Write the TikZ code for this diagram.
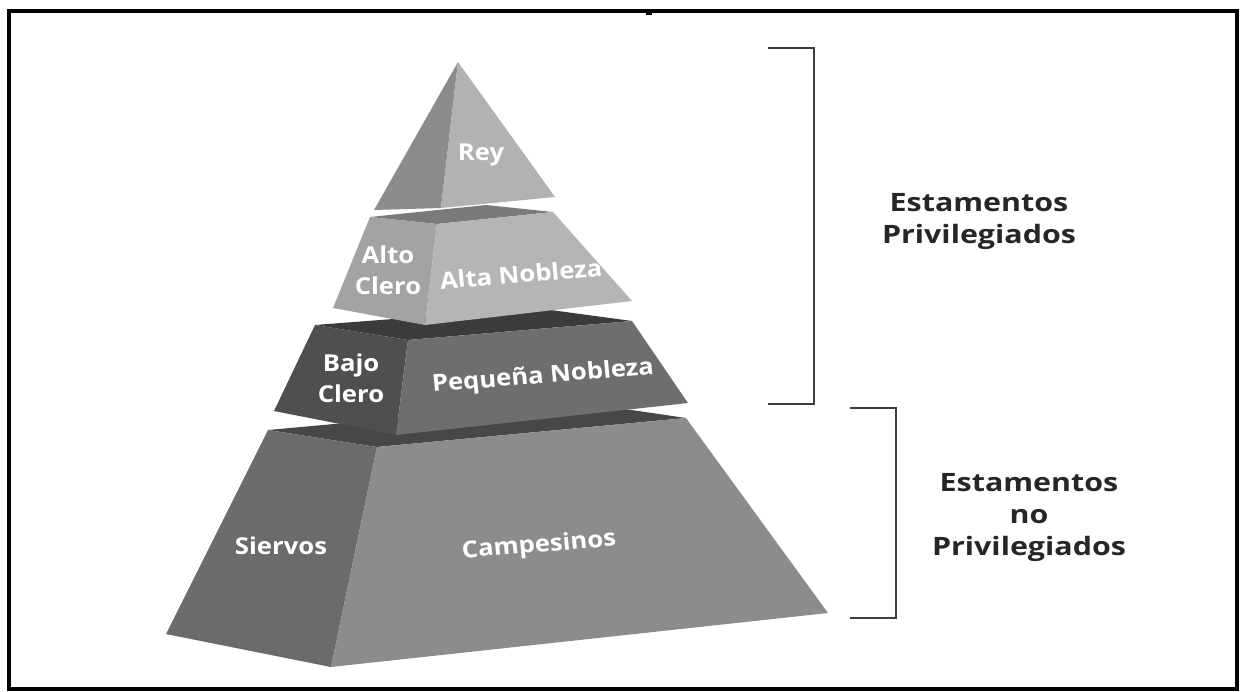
\documentclass[tikz,border=0pt]{standalone}
\usepackage{fontspec}
\setmainfont{Open Sans}

\begin{document}
\begin{tikzpicture}[yscale=-1,x=0.75pt,y=0.75pt]
	\tikzstyle{lbl} = [text=white, font=\bfseries\fontsize{17.5}{23}\selectfont, align=center, inner sep=0pt, xscale=1.1]
	\tikzstyle{side} = [text=black!85, font=\bfseries\fontsize{19}{24}\selectfont, align=center, inner sep=0pt, xscale=1.2]
	\tikzstyle{brace} = [draw=black!76, line width=2.2pt]

	\useasboundingbox (0,0) rectangle (1243,692);
	\fill[white] (0,0) rectangle (1243,692);
	\draw[line width=2.4pt] (9,11) rectangle (1237,689);
	\fill (646,11) rectangle (652,15);

	% base
	\fill[black!72] (268,430) -- (577,402) -- (686,418) -- (377,447) -- cycle;
	\fill[black!58] (268,430) -- (377,447) -- (331,667) -- (166,634) -- cycle;
	\fill[black!45] (377,447) -- (686,418) -- (828,613) -- (331,667) -- cycle;
	% third
	\fill[black!77] (315,325) -- (536,308) -- (632,321) -- (408,340) -- cycle;
	\fill[black!69] (315,325) -- (408,340) -- (396,435) -- (274,411) -- cycle;
	\fill[black!57] (408,340) -- (632,321) -- (688,403) -- (396,435) -- cycle;
	% second
	\fill[black!52] (370,217) -- (486,205) -- (553,212) -- (437,224) -- cycle;
	\fill[black!36] (370,217) -- (437,224) -- (425,325) -- (333,308) -- cycle;
	\fill[black!29] (437,224) -- (553,212) -- (632,301) -- (425,325) -- cycle;
	% top
	\fill[black!45] (458,62) -- (374,210) -- (441,208) -- cycle;
	\fill[black!30] (458,62) -- (441,208) -- (555,197) -- cycle;

	\node[lbl] (rey) at (481,155) {Rey};
	\node[lbl] (altoclero) at (388,270) {Alto\\Clero};
	\node[lbl, rotate=5] (altanobleza) at (521,274) {Alta Nobleza};
	\node[lbl] (bajoclero) at (351,378) {Bajo\\Clero};
	\node[lbl, rotate=5] (pequena) at (543,377) {Pequeña Nobleza};
	\node[lbl] (siervos) at (281,546) {Siervos};
	\node[lbl, rotate=5] (campesinos) at (539,546) {Campesinos};

	\node[side] (priv) at (979,221) {Estamentos\\Privilegiados};
	\node[side] (nopriv) at (1029,517) {Estamentos\\no\\Privilegiados};

	\coordinate (p1) at (768,48);
	\coordinate (p2) at (768,404);
	\coordinate (q1) at (850,408);
	\coordinate (q2) at (850,618);
	\draw[brace] (p1) -- (814,48) -- (814,404) -- (p2);
	\draw[brace] (q1) -- (896,408) -- (896,618) -- (q2);
\end{tikzpicture}
\end{document}
